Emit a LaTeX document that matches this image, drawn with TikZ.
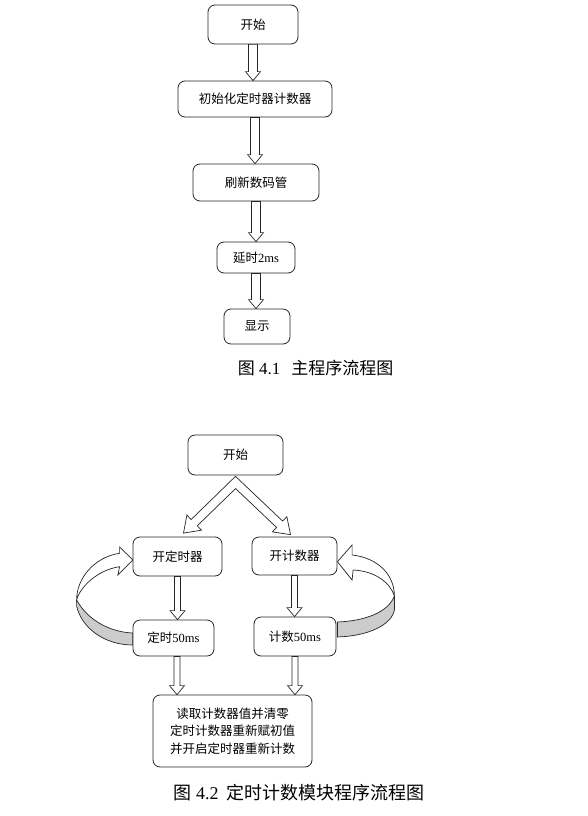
\documentclass[tikz,border=0pt]{standalone}
\usepackage{fontspec}
\setmainfont{Liberation Serif}
\newfontfamily\cjk{Noto Sans CJK SC}
\usetikzlibrary{calc}

% straight block arrow pointing down: [shaft half width]{from}{to}
\newcommand{\blockdown}[3][4.5]{%
  \draw[blockarrow] ($(#2)+(-#1,0)$) -- ($(#2 |- #3)+(-#1,-9)$) -- ($(#2 |- #3)+(-7.5,-9)$)
    -- (#2 |- #3) -- ($(#2 |- #3)+(7.5,-9)$) -- ($(#2 |- #3)+(#1,-9)$) -- ($(#2)+(#1,0)$) -- cycle;}

\begin{document}
\begin{tikzpicture}[x=1pt, y=-1pt,
    box/.style={draw=black!85, fill=white, rounded corners=7pt, line width=0.8pt, inner sep=0pt,
                align=center, font=\cjk\fontsize{12.5pt}{17.5pt}\selectfont},
    blockarrow/.style={draw=black!85, fill=white, line width=0.7pt},
    ribbon/.style={draw=black!85, fill=gray!40, line width=0.7pt},
    caption/.style={font=\fontsize{17pt}{20pt}\selectfont}
]
\useasboundingbox[fill=white] (0,0) rectangle (587,816);

% Main program
\node[box, minimum width=90pt, minimum height=39pt] (start1) at (253,24.5) {开始};
\node[box, minimum width=154pt, minimum height=36pt] (init) at (255,99) {初始化定时器计数器};
\node[box, minimum width=126pt, minimum height=37pt] (refresh) at (256,182.5) {刷新数码管};
\node[box, minimum width=78pt, minimum height=31pt] (delay) at (256,257.5) {延时{\rmfamily 2ms}};
\node[box, minimum width=66pt, minimum height=35pt] (show) at (257,326.5) {显示};

\blockdown{start1.south}{init.north}
\blockdown{init.south}{refresh.north}
\blockdown{refresh.south}{delay.north}
\blockdown{delay.south}{show.north}

\node[caption] (cap1) at (315.5,368) {{\cjk 图} 4.1\hspace{11pt}{\cjk 主程序流程图}};

% Timer / counter module
\node[box, minimum width=95pt, minimum height=40pt] (start2) at (235.5,455) {开始};
\node[box, minimum width=89pt, minimum height=39pt] (kdsq) at (177.5,556.5) {开定时器};
\node[box, minimum width=85pt, minimum height=38pt] (kjsq) at (294.5,556) {开计数器};
\node[box, minimum width=81pt, minimum height=36pt] (ds) at (173.5,638) {定时{\rmfamily 50ms}};
\node[box, minimum width=82pt, minimum height=39pt] (js) at (295,636.5) {计数{\rmfamily 50ms}};
\node[box, minimum width=159pt, minimum height=72pt] (final) at (232.5,731)
    {读取计数器值并清零\\定时计数器重新赋初值\\并开启定时器重新计数};

% Fork arrows
\coordinate (fork) at ($(start2.south)+(0,7)$);
\coordinate (ltip) at ($(kdsq.north)+(6,-3.5)$);
\coordinate (rtip) at ($(kjsq.north)+(-4,-2)$);
\coordinate (lc) at ($(ltip)!15pt!(fork)$);
\coordinate (rc) at ($(rtip)!15pt!(fork)$);
\coordinate (lo) at ($(lc)!4.4pt!-90:(ltip)$);
\coordinate (lof) at ($(fork)!4.4pt!-90:(ltip)$);
\coordinate (li) at ($(lc)!4.4pt!90:(ltip)$);
\coordinate (lif) at ($(fork)!4.4pt!90:(ltip)$);
\coordinate (ro) at ($(rc)!4.4pt!90:(rtip)$);
\coordinate (rof) at ($(fork)!4.4pt!90:(rtip)$);
\coordinate (ri) at ($(rc)!4.4pt!-90:(rtip)$);
\coordinate (rif) at ($(fork)!4.4pt!-90:(rtip)$);
\coordinate (apex) at (intersection of lo--lof and ro--rof);
\coordinate (notch) at (intersection of li--lif and ri--rif);
\draw[blockarrow] (apex) -- (lo) -- ($(lc)!10.5pt!-90:(ltip)$) -- (ltip) -- ($(lc)!10.5pt!90:(ltip)$)
    -- (li) -- (notch) -- (ri) -- ($(rc)!10.5pt!-90:(rtip)$) -- (rtip)
    -- ($(rc)!10.5pt!90:(rtip)$) -- (ro) -- cycle;

\blockdown[3]{kdsq.south}{ds.north}
\blockdown[3]{kjsq.south}{js.north}
\coordinate (dsout) at ($(ds.south)+(3.5,0)$);
\blockdown[3]{dsout}{final.north}
\blockdown[3]{js.south}{final.north}

% Loop back on the timer
\begin{scope}[shift={(kdsq.west)}]
  \draw[ribbon] (-56,43.5) .. controls (-45,63.5) and (-23,75.5) .. (0,76.5) -- (0,88.5)
      .. controls (-28,88.5) and (-51,71.5) .. (-56,49.5) -- cycle;
  \draw[blockarrow] (-13,10.2) -- (-14.7,18.5) -- (0.3,3.5) -- (-13,-9.5) -- (-13,-3.2)
      .. controls (-38,0.5) and (-56,21.5) .. (-56,43.5)
      .. controls (-53,31.5) and (-36,13.5) .. (-13,10.2) -- cycle;
\end{scope}

% Loop back on the counter
\begin{scope}[shift={(kjsq.east)}]
  \draw[ribbon] (57,40) .. controls (51,56) and (28,65) .. (0,66) -- (0,81)
      .. controls (31,80) and (54,69) .. (57,54) -- cycle;
  \draw[blockarrow] (15.7,14) -- (14.7,24) -- (0,5.7) -- (14.7,-11) -- (14.7,-1)
      .. controls (41,2) and (57,19) .. (57,40)
      .. controls (53,27) and (38,15) .. (15.7,14) -- cycle;
\end{scope}

\node[caption, font=\fontsize{18pt}{21pt}\selectfont] (cap2) at (299,793)
    {{\cjk 图} 4.2\hspace{8pt}{\cjk 定时计数模块程序流程图}};
\end{tikzpicture}
\end{document}
